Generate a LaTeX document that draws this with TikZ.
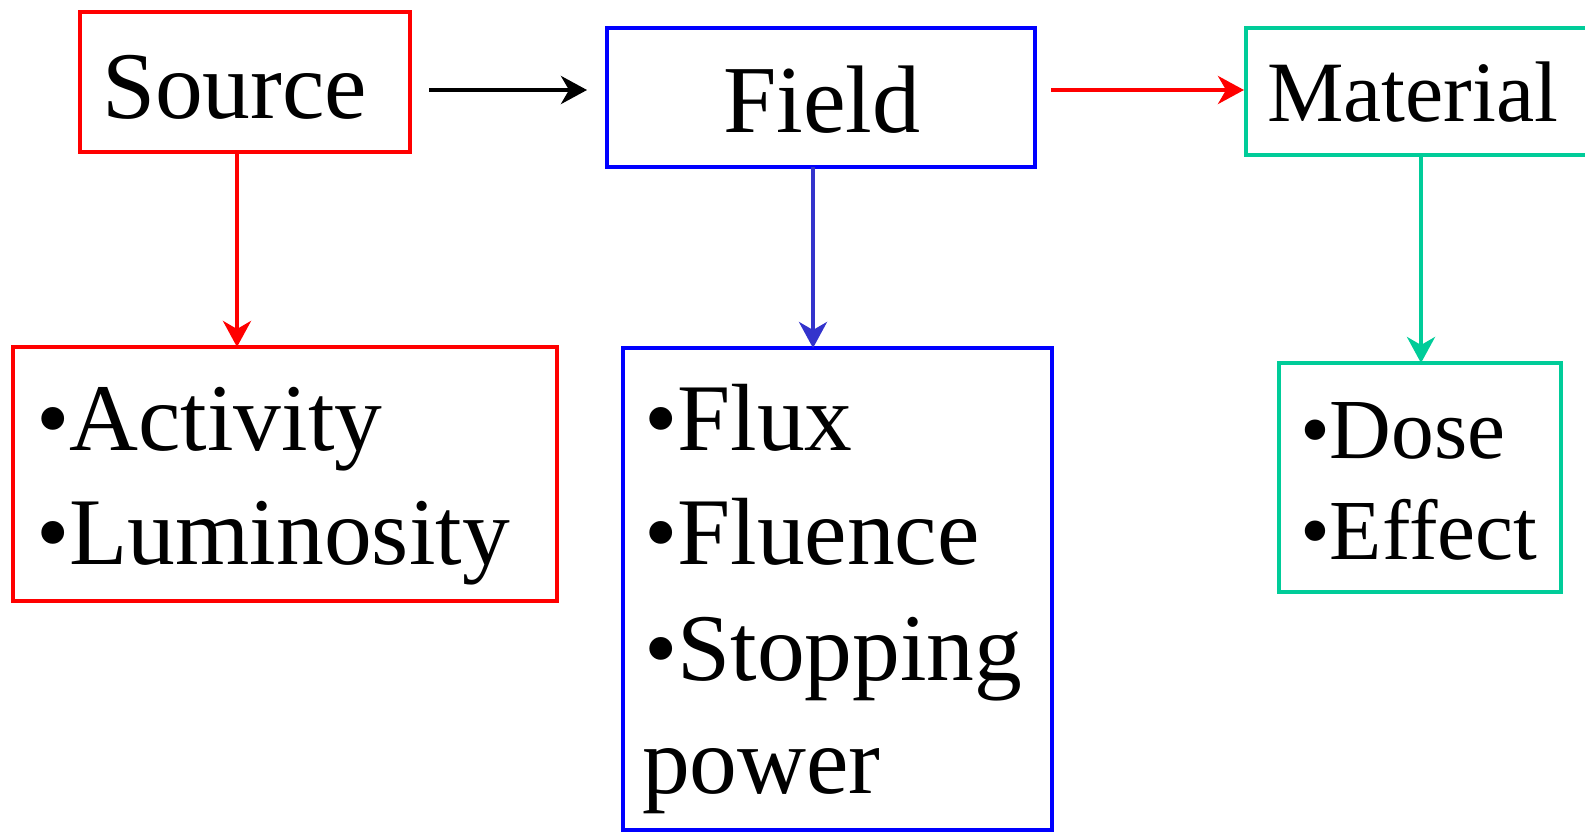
\documentclass[tikz,border=0pt]{standalone}
\usepackage{fontspec}
\setmainfont{Liberation Serif}
\usetikzlibrary{arrows.meta}
\definecolor{myred}{RGB}{255,0,0}
\definecolor{myblue}{RGB}{0,0,255}
\definecolor{myblueb}{RGB}{51,51,204}
\definecolor{mygreen}{RGB}{0,204,153}
\tikzset{
  box/.style={draw, line width=4pt, inner sep=0pt, outer sep=0pt},
  txt/.style={anchor=base west, inner sep=0pt, outer sep=0pt, text=black},
  big/.style={font=\fontsize{95.5}{110}\selectfont},
  mid/.style={font=\fontsize{85.5}{100}\selectfont},
  arr/.style={line width=4pt, -{Stealth[length=26pt,width=28pt,inset=8pt]}},
}
\begin{document}
\begin{tikzpicture}[x=1pt,y=-1pt]
\useasboundingbox (0,0) rectangle (1585,832);
% boxes
\node[box, myred, minimum width=330pt, minimum height=140pt] (src) at (245,82) {};
\node[box, myblue, minimum width=428pt, minimum height=139pt] (fld) at (821,97.5) {};
\node[box, mygreen, minimum width=350pt, minimum height=127pt] (mat) at (1421,91.5) {};
\node[box, myred, minimum width=544pt, minimum height=254pt] (act) at (285,474) {};
\node[box, myblue, minimum width=429pt, minimum height=482pt] (flx) at (837.5,589) {};
\node[box, mygreen, minimum width=282pt, minimum height=229pt] (dose) at (1420,477.5) {};
% texts
\node[txt, font=\fontsize{95.5}{110}\selectfont] (tsrc) at (102,119) {Source};
\node[txt, font=\fontsize{96}{110}\selectfont] (tfld) at (723,132) {Field};
\node[txt, font=\fontsize{86}{100}\selectfont] (tmat) at (1267,122) {Material};
\node[txt, big] (tact) at (36,450) {•Activity};
\node[txt, big] (tlum) at (36,564) {•Luminosity};
\node[txt, big] (tflx) at (644,450) {•Flux};
\node[txt, big] (tflu) at (644,564) {•Fluence};
\node[txt, big] (tstp) at (644,680) {•Stopping};
\node[txt, big] (tpow) at (642,793) {power};
\node[txt, mid] (tdos) at (1300,458) {•Dose};
\node[txt, mid] (teff) at (1300,559) {•Effect};
% connectors
\coordinate (row) at (0,90);
\coordinate (c1) at (237,0);
\coordinate (c2) at (813,0);
\coordinate (c3) at (1421,0);
\draw[arr, black, shorten <=19pt, shorten >=20pt] (src.east |- row) -- (fld.west |- row);
\draw[arr, myred, shorten <=16pt, shorten >=2pt] (fld.east |- row) -- (mat.west |- row);
\draw[arr, myred] (src.south -| c1) -- (act.north -| c1);
\draw[arr, myblueb] (fld.south -| c2) -- (flx.north -| c2);
\draw[arr, mygreen] (mat.south -| c3) -- (dose.north -| c3);
\end{tikzpicture}
\end{document}
